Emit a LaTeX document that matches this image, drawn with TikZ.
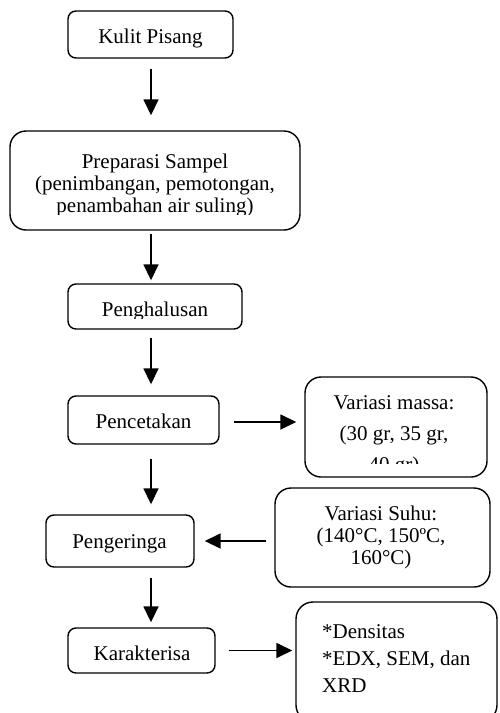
\documentclass[tikz,border=0pt]{standalone}
\usepackage{fontspec}
\setmainfont{Liberation Serif}
\usetikzlibrary{arrows.meta}
\begin{document}
\begin{tikzpicture}[x=1pt,y=-1pt,
  box/.style={draw, line width=1.4pt, rounded corners=#1, inner sep=0pt},
  box/.default=8pt,
  txt/.style={font=\fontsize{21}{#1}\selectfont, inner sep=0pt},
  txt/.default=22pt,
  arr/.style={line width=1.6pt, -{Triangle[length=16pt,width=15pt]}},
  ]
\useasboundingbox (0,0) rectangle (499,713);
\coordinate (col) at (151,0);

% boxes
\node[box, minimum width=165pt, minimum height=47pt] (kulit) at (150.5,34.5) {};
\node[box=16pt, minimum width=290pt, minimum height=99pt] (prep) at (155,180.5) {};
\node[box, minimum width=174pt, minimum height=45pt] (halus) at (155,306.5) {};
\node[box, minimum width=151pt, minimum height=48pt] (cetak) at (143.5,420) {};
\node[box=16pt, minimum width=182pt, minimum height=100pt] (massa) at (396,427) {};
\node[box, minimum width=148pt, minimum height=52pt] (kering) at (120,541) {};
\node[box=16pt, minimum width=215pt, minimum height=99pt] (suhu) at (382.5,537.5) {};
\node[box, minimum width=147pt, minimum height=45pt] (karak) at (141.5,650.5) {};
\node[box=17pt, minimum width=201pt, minimum height=120pt] (dens) at (396.5,662) {};

% texts (multi-line nodes: base = baseline of the last line)
\node[txt, anchor=base] (tkulit) at (150.5,43) {Kulit Pisang};
\begin{scope}
  \clip (10,131) rectangle (300,214);
  \node[txt=22pt, align=center, anchor=base] (tprep) at (155,212) {Preparasi Sampel\\(penimbangan, pemotongan,\\penambahan air suling)};
\end{scope}
\begin{scope}
  \clip (68,284) rectangle (242,318);
  \node[txt, anchor=base] (thalus) at (155,316) {Penghalusan};
\end{scope}
\node[txt, anchor=base] (tcetak) at (143.5,428) {Pencetakan};
\begin{scope}
  \clip (305,377) rectangle (487,463);
  \node[txt=31pt, align=center, anchor=base] (tmassa) at (394,471) {Variasi massa:\\(30 gr, 35 gr,\\40 gr)};
\end{scope}
\node[txt, anchor=base] (tkering) at (119.5,548) {Pengeringa};
\node[txt=22pt, align=center, anchor=base] (tsuhu) at (381,564) {Variasi Suhu:\\(140°C, 150ºC,\\160°C)};
\node[txt, anchor=base] (tkarak) at (142,660) {Karakterisa};
\node[txt=27pt, align=left, anchor=base west] (tdens) at (322,692) {*Densitas\\*EDX, SEM, dan\\XRD};

% connectors
\draw[arr, shorten <=10pt, shorten >=15pt] (kulit.south -| col) -- (prep.north -| col);
\draw[arr, shorten <=3pt, shorten >=3pt] (prep.south -| col) -- (halus.north -| col);
\draw[arr, shorten <=8pt, shorten >=11pt] (halus.south -| col) -- (cetak.north -| col);
\draw[arr, shorten <=14pt, shorten >=10pt] (cetak.south -| col) -- (kering.north -| col);
\draw[arr, shorten <=10pt, shorten >=5pt] (kering.south -| col) -- (karak.north -| col);
\draw[arr, shorten <=14pt, shorten >=8pt] ([yshift=-2pt]cetak.east) -- ([yshift=-2pt]cetak.east -| massa.west);
\draw[arr, shorten <=8pt, shorten >=10pt] (kering.east -| suhu.west) -- (kering.east);
\draw[arr, shorten <=13pt, shorten >=3pt] (karak.east) -- (karak.east -| dens.west);
\end{tikzpicture}
\end{document}
